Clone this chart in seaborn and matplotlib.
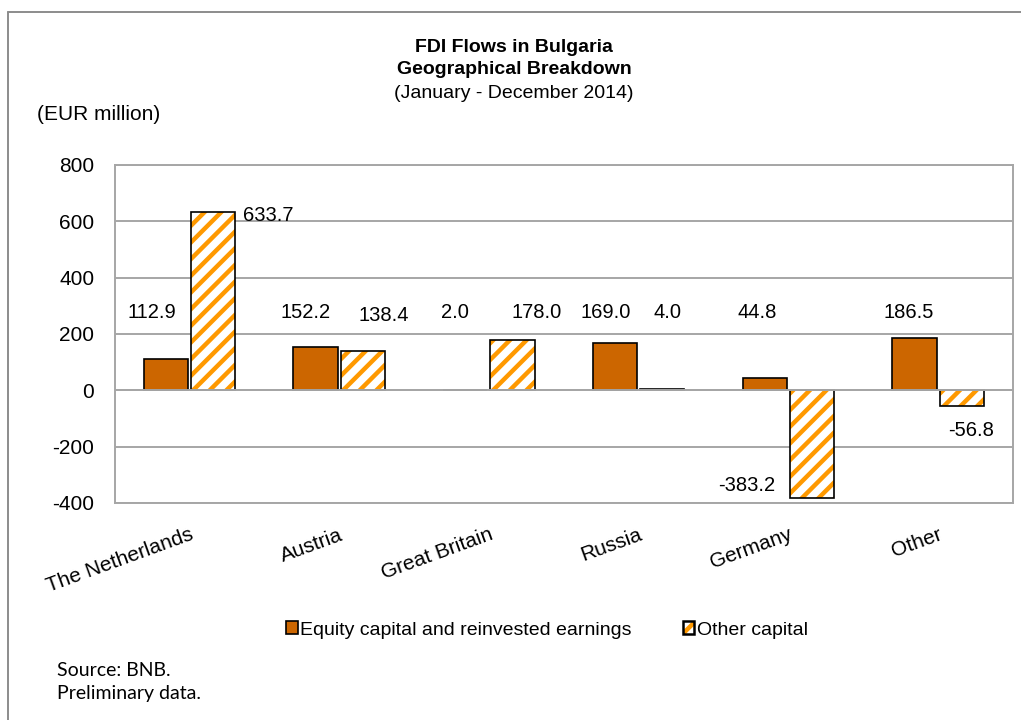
import matplotlib
matplotlib.use("Agg")
import matplotlib.pyplot as plt
import seaborn as sns
import pandas as pd
from matplotlib.patches import Patch, Rectangle
from matplotlib.lines import Line2D
from matplotlib.legend_handler import HandlerTuple

countries = ["The Netherlands", "Austria", "Great Britain", "Russia", "Germany", "Other"]
equity = [112.9, 152.2, 2.0, 169.0, 44.8, 186.5]
other = [633.7, 138.4, 178.0, 4.0, -383.2, -56.8]
series_names = ["Equity capital and reinvested earnings", "Other capital"]
yticks = [-400, -200, 0, 200, 400, 600, 800]

# label placement (offset from category centre, y in data units)
eq_lab_dx = [-0.253, -0.227, -0.227, -0.218, -0.21, -0.194]
eq_lab_y = [277, 277, 277, 277, 277, 277]
ot_lab_dx = [0.525, 0.30, 0.32, 0.196, -0.28, 0.22]
ot_lab_y = [621, 266, 277, 277, -337, -142]

sns.set_theme(style="white")
plt.rcParams['font.family'] = ['Liberation Sans', 'DejaVu Sans']
plt.rcParams['hatch.linewidth'] = 3.2
plt.rcParams['text.color'] = 'black'
plt.rcParams['xtick.color'] = 'black'
plt.rcParams['ytick.color'] = 'black'
plt.rcParams['xtick.labelcolor'] = 'black'
plt.rcParams['ytick.labelcolor'] = 'black'

EQ_COLOR = "#CC6600"
HATCH_COLOR = "#FF9900"
GRID = "#A6A6A6"

df = pd.DataFrame({
    "country": countries * 2,
    "value": equity + other,
    "series": [series_names[0]] * len(countries) + [series_names[1]] * len(countries),
})

fig = plt.figure(figsize=(10.21, 7.2), dpi=100)
ax = fig.add_axes([114.5 / 1021, 1 - 503 / 720, (1013 - 114.5) / 1021, (503 - 165) / 720])

sns.barplot(data=df, x="country", y="value", hue="series", order=countries,
            hue_order=series_names, palette=[EQ_COLOR, "white"], saturation=1,
            width=0.63, gap=0.065, ax=ax, legend=False, errorbar=None, zorder=2)

for p in ax.containers[0]:
    p.set_facecolor(EQ_COLOR)
    p.set_edgecolor("black")
    p.set_linewidth(1.2)
for p in ax.containers[1]:
    p.set_facecolor("white")
    p.set_edgecolor(HATCH_COLOR)
    p.set_hatch("//")
    p.set_linewidth(0)
    outline = Rectangle((p.get_x(), p.get_y()), p.get_width(), p.get_height(),
                        fill=False, edgecolor="black", linewidth=1.2, zorder=2.5)
    ax.add_patch(outline)

ax.axhline(0, color=GRID, lw=1.4, zorder=3)

ax.set_ylim(-400, 800)
ax.set_xlim(-0.5, len(countries) - 0.5)
ax.set_yticks(yticks)
ax.set_yticklabels([str(v) for v in yticks], fontsize=15, color="black")
ax.yaxis.grid(True, color=GRID, lw=1.4, zorder=0)
ax.set_axisbelow(True)
ax.tick_params(axis="both", length=0)
ax.tick_params(axis="y", pad=14.5)
ax.set_xlabel("")
ax.set_ylabel("")
for s in ax.spines.values():
    s.set_color(GRID)
    s.set_linewidth(1.4)
    s.set_visible(True)

ax.set_xticks(range(len(countries)))
ax.set_xticklabels(countries, fontsize=15, rotation=20, ha="right", va="top",
                   rotation_mode="anchor", color="black")
ax.tick_params(axis="x", pad=16)

for i in range(len(countries)):
    ax.text(i + eq_lab_dx[i], eq_lab_y[i], f"{equity[i]:.1f}", ha="center", va="center",
            fontsize=14.5, color="black")
    ax.text(i + ot_lab_dx[i], ot_lab_y[i], f"{other[i]:.1f}", ha="center", va="center",
            fontsize=14.5, color="black")

# Titles
fig.text(514 / 1021, 1 - 47 / 720, "FDI Flows in Bulgaria", ha="center", va="center",
         fontsize=14, fontweight="bold", color="black")
fig.text(514 / 1021, 1 - 70 / 720, "Geographical Breakdown", ha="center", va="center",
         fontsize=14, fontweight="bold", color="black")
fig.text(514 / 1021, 1 - 93 / 720, "(January - December 2014)", ha="center", va="center",
         fontsize=14, color="black")
fig.text(37 / 1021, 1 - 115 / 720, "(EUR million)", ha="left", va="center", fontsize=15,
         color="black")

# Legend
h_eq = Patch(facecolor=EQ_COLOR, edgecolor="black", linewidth=1.2)
h_ot = (Patch(facecolor="white", edgecolor=HATCH_COLOR, hatch="//", linewidth=0),
        Patch(facecolor="none", edgecolor="black", linewidth=1.8))
leg = fig.legend([h_eq, h_ot], series_names, handler_map={tuple: HandlerTuple(ndivide=1)},
                 loc="center", bbox_to_anchor=(547 / 1021, 1 - 630 / 720), ncol=2,
                 frameon=False, fontsize=14, handlelength=0.6, handleheight=0.6,
                 handletextpad=0.15, columnspacing=2.6)
for t in leg.get_texts():
    t.set_color("black")

# Source
fig.text(57 / 1021, 1 - 671 / 720, "Source: BNB.", ha="left", va="center",
         fontsize=14, family=["Lato", "DejaVu Sans"], color="black")
fig.text(57 / 1021, 1 - 694 / 720, "Preliminary data.", ha="left", va="center",
         fontsize=14, family=["Lato", "DejaVu Sans"], color="black")

# Outer frame (left and top)
fig.add_artist(Line2D([8 / 1021, 8 / 1021], [0, 1 - 12 / 720], transform=fig.transFigure,
                      color="#8C8C8C", lw=1.4))
fig.add_artist(Line2D([8 / 1021, 1], [1 - 12 / 720, 1 - 12 / 720], transform=fig.transFigure,
                      color="#8C8C8C", lw=1.4))

fig.savefig("out.png", dpi=100, facecolor="white")
